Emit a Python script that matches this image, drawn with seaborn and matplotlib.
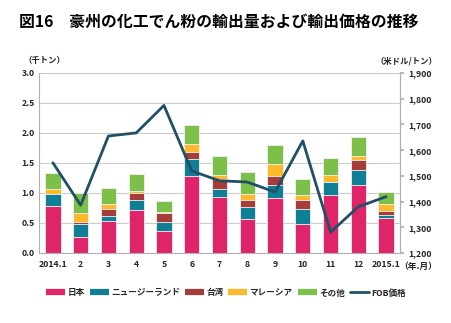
import numpy as np
import pandas as pd
import matplotlib
matplotlib.use("Agg")
import matplotlib.pyplot as plt
from matplotlib.lines import Line2D
import seaborn as sns

months = ["2014.1", "2", "3", "4", "5", "6", "7", "8", "9", "10", "11", "12", "2015.1"]
japan = [0.785, 0.27, 0.54, 0.71, 0.36, 1.28, 0.93, 0.57, 0.925, 0.49, 0.96, 1.14, 0.585]
nz = [0.205, 0.22, 0.08, 0.18, 0.16, 0.28, 0.145, 0.19, 0.205, 0.245, 0.22, 0.24, 0.05]
taiwan = [0.0, 0.03, 0.12, 0.11, 0.14, 0.12, 0.165, 0.12, 0.16, 0.145, 0.0, 0.17, 0.065]
malaysia = [0.085, 0.14, 0.07, 0.04, 0.03, 0.13, 0.06, 0.11, 0.19, 0.08, 0.12, 0.06, 0.11]
other = [0.265, 0.34, 0.28, 0.27, 0.17, 0.33, 0.32, 0.36, 0.32, 0.27, 0.29, 0.32, 0.20]
fob = [1551, 1386, 1655, 1667, 1774, 1519, 1481, 1476, 1437, 1636, 1281, 1380, 1419]

series_names = ["日本", "ニュージーランド", "台湾", "マレーシア", "その他"]
series_vals = [japan, nz, taiwan, malaysia, other]
colors = ["#E0246A", "#0F7F96", "#A63D3B", "#FDB92C", "#7CC04A"]
line_color = "#1F5068"

sns.set_theme(style="white")
font = ["Noto Sans CJK JP", "DejaVu Sans"]
plt.rcParams["font.family"] = font
plt.rcParams["font.weight"] = "bold"

fig = plt.figure(figsize=(4.51, 3.23), dpi=100)
ax = fig.add_axes([39 / 451, 1 - 253 / 323, (400 - 39) / 451, (253 - 73) / 323])

cum = np.cumsum(np.array(series_vals), axis=0)
for i in range(len(series_names) - 1, -1, -1):
    df = pd.DataFrame({"month": months, "value": cum[i]})
    sns.barplot(data=df, x="month", y="value", color=colors[i], width=0.55,
                edgecolor="#f2f2f2", linewidth=0.6, saturation=1, ax=ax, zorder=2)

ax.set_ylim(0, 3.0)
ax.set_xlim(-0.5, 12.5)
ax.set_yticks(np.arange(0, 3.01, 0.5))
ax.set_yticklabels([f"{v:.1f}" for v in np.arange(0, 3.01, 0.5)], fontsize=6.3, fontweight="bold")
ax.set_xticks(range(len(months)))
ax.set_xticklabels(months, fontsize=6.3, fontweight="bold")
ax.tick_params(axis="x", length=0, pad=5)
ax.tick_params(axis="y", length=0, pad=3)
ax.set_xticks(np.arange(-0.5, 12.6, 1), minor=True)
ax.tick_params(axis="x", which="minor", length=3, color="#b0b0b0", direction="out")
ax.set_xlabel("")
ax.set_ylabel("")
ax.grid(axis="y", color="#cccccc", linewidth=0.8, zorder=0)
ax.set_axisbelow(True)
for s in ["top"]:
    ax.spines[s].set_visible(False)
for s in ["left", "right", "bottom"]:
    ax.spines[s].set_color("#b0b0b0")
    ax.spines[s].set_linewidth(0.8)

ax2 = ax.twinx()
ldf = pd.DataFrame({"pos": np.arange(len(months)), "fob": fob})
sns.lineplot(data=ldf, x="pos", y="fob", color=line_color, linewidth=2.0, ax=ax2)
ax2.set_ylim(1200, 1900)
ax2.set_xlim(-0.5, 12.5)
ax2.set_yticks(range(1200, 1901, 100))
ax2.set_yticklabels([f"{v:,}" for v in range(1200, 1901, 100)], fontsize=6.3, fontweight="bold")
ax2.tick_params(axis="y", length=3, color="#b0b0b0", direction="out", pad=3)
ax2.set_ylabel("")
ax2.set_xlabel("")
ax2.grid(False)
for s in ["top", "left", "bottom"]:
    ax2.spines[s].set_visible(False)
ax2.spines["right"].set_color("#b0b0b0")
ax2.spines["right"].set_linewidth(0.8)

fig.text(19 / 451, 1 - 22 / 323, "図16　豪州の化工でん粉の輸出量および輸出価格の推移",
         fontsize=11.4, fontweight="bold", ha="left", va="center", color="black")
fig.text(44 / 451, 1 - 61 / 323, "（千トン）", fontsize=6.0, fontweight="bold",
         ha="center", va="center")
fig.text(406 / 451, 1 - 61 / 323, "（米ドル/トン）", fontsize=6.0, fontweight="bold",
         ha="center", va="center")
fig.text(418 / 451, 1 - 266 / 323, "（年.月）", fontsize=6.3, fontweight="bold",
         ha="center", va="center")

handles = [Line2D([0], [0], color=c, lw=4.5, solid_capstyle="butt") for c in colors]
handles.append(Line2D([0], [0], color=line_color, lw=2.0))
labels = series_names + ["FOB価格"]
fig.legend(handles, labels, loc="center", bbox_to_anchor=(226 / 451, 1 - 293 / 323),
           ncol=6, frameon=False, handlelength=2.2, handletextpad=0.25,
           columnspacing=0.6, prop={"weight": "bold", "size": 6.2})

fig.savefig("out.png", dpi=100)
